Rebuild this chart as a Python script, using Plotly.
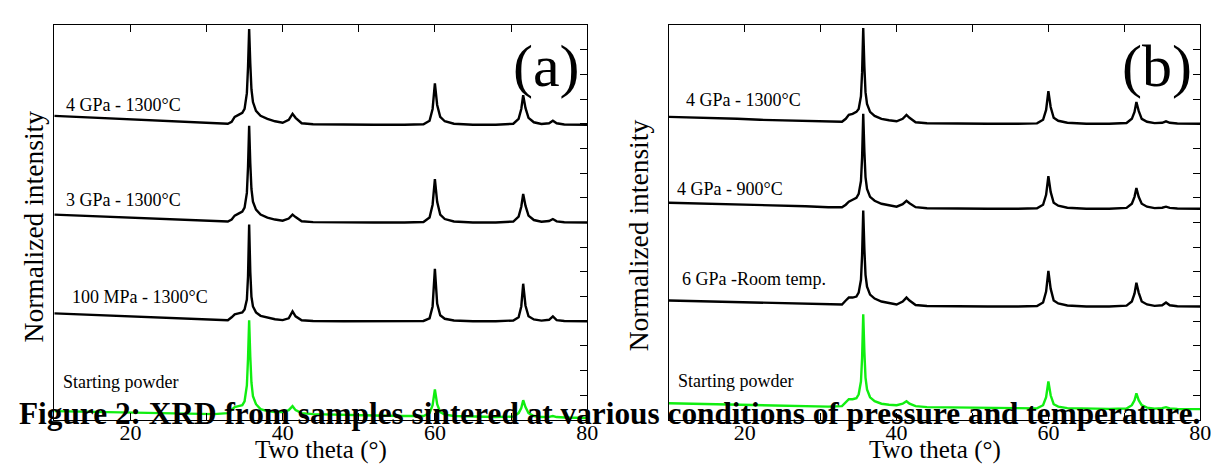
import plotly.graph_objects as go

# ---------------- data ----------------
two_theta = [10, 13, 16, 19, 22, 25, 28, 31, 32.8, 33.3, 33.7, 34.2, 34.7,
             35.0, 35.3, 35.45, 35.6, 35.75, 35.9, 36.1, 36.5, 37.1,
             38, 39, 40, 40.8, 41.3, 41.7, 42.5, 44, 48, 52, 56,
             58.5, 59.3, 59.7, 60.0, 60.3, 60.7, 61.3, 62.5, 65, 68,
             70.3, 71.0, 71.35, 71.6, 71.9, 72.3, 73.0, 74.0, 75.0, 75.5, 76.0, 77, 80]

# panel (a)
a_4gpa_1300 = [0.09, 0.08, 0.07, 0.06, 0.045, 0.035, 0.025, 0.015, 0.01, 0.03, 0.08, 0.10, 0.12,
               0.16, 0.32, 0.58, 0.97, 0.62, 0.36, 0.23, 0.14, 0.09,
               0.06, 0.035, 0.02, 0.05, 0.11, 0.07, 0.015, 0.005, 0.0, 0.0, 0.0,
               0.005, 0.04, 0.16, 0.42, 0.20, 0.08, 0.035, 0.01, 0.0, 0.0,
               0.01, 0.06, 0.16, 0.30, 0.17, 0.07, 0.025, 0.008, 0.015, 0.04, 0.015, 0.003, 0.0]
a_3gpa_1300 = [0.08, 0.07, 0.06, 0.05, 0.04, 0.03, 0.022, 0.012, 0.01, 0.03, 0.07, 0.09, 0.11,
               0.15, 0.30, 0.56, 0.98, 0.60, 0.34, 0.21, 0.13, 0.08,
               0.05, 0.03, 0.018, 0.04, 0.08, 0.055, 0.012, 0.004, 0.0, 0.0, 0.0,
               0.005, 0.05, 0.18, 0.44, 0.21, 0.08, 0.035, 0.01, 0.0, 0.0,
               0.01, 0.06, 0.16, 0.29, 0.17, 0.07, 0.025, 0.008, 0.015, 0.035, 0.012, 0.003, 0.0]
a_100mpa_1300 = [0.08, 0.07, 0.06, 0.05, 0.04, 0.03, 0.02, 0.01, 0.01, 0.04, 0.07, 0.08, 0.09,
                 0.12, 0.22, 0.45, 0.98, 0.50, 0.25, 0.15, 0.09, 0.055,
                 0.035, 0.02, 0.012, 0.03, 0.10, 0.05, 0.01, 0.003, 0.0, 0.0, 0.0,
                 0.003, 0.03, 0.15, 0.53, 0.18, 0.06, 0.025, 0.008, 0.0, 0.0,
                 0.008, 0.04, 0.15, 0.38, 0.16, 0.05, 0.018, 0.006, 0.015, 0.05, 0.012, 0.003, 0.0]
a_powder = [0.07, 0.065, 0.06, 0.055, 0.05, 0.045, 0.04, 0.04, 0.05, 0.08, 0.11, 0.12, 0.13,
            0.17, 0.33, 0.60, 0.99, 0.62, 0.36, 0.22, 0.14, 0.09,
            0.07, 0.06, 0.06, 0.08, 0.12, 0.08, 0.05, 0.04, 0.03, 0.025, 0.02,
            0.02, 0.05, 0.13, 0.29, 0.14, 0.06, 0.035, 0.02, 0.012, 0.01,
            0.015, 0.05, 0.10, 0.18, 0.11, 0.05, 0.02, 0.01, 0.012, 0.02, 0.01, 0.005, 0.0]

# panel (b)
b_4gpa_1300 = [0.07, 0.065, 0.06, 0.05, 0.04, 0.035, 0.03, 0.02, 0.02, 0.05, 0.09, 0.10, 0.12,
               0.15, 0.28, 0.52, 0.97, 0.58, 0.32, 0.20, 0.12, 0.08,
               0.05, 0.035, 0.025, 0.05, 0.09, 0.06, 0.015, 0.005, 0.0, 0.0, 0.0,
               0.004, 0.04, 0.14, 0.33, 0.17, 0.06, 0.03, 0.01, 0.0, 0.0,
               0.008, 0.05, 0.12, 0.22, 0.13, 0.05, 0.02, 0.006, 0.01, 0.025, 0.01, 0.002, 0.0]
b_4gpa_900 = [0.06, 0.055, 0.05, 0.045, 0.04, 0.03, 0.025, 0.015, 0.015, 0.04, 0.07, 0.09, 0.11,
              0.15, 0.28, 0.52, 0.96, 0.58, 0.32, 0.20, 0.12, 0.08,
              0.05, 0.035, 0.02, 0.045, 0.08, 0.055, 0.015, 0.005, 0.0, 0.0, 0.0,
              0.004, 0.04, 0.14, 0.33, 0.17, 0.06, 0.03, 0.01, 0.0, 0.0,
              0.008, 0.05, 0.12, 0.21, 0.12, 0.05, 0.02, 0.006, 0.01, 0.02, 0.008, 0.002, 0.0]
b_6gpa_room = [0.06, 0.055, 0.05, 0.04, 0.035, 0.03, 0.025, 0.02, 0.02, 0.06, 0.09, 0.09, 0.10,
               0.14, 0.27, 0.52, 0.97, 0.58, 0.32, 0.20, 0.12, 0.08,
               0.05, 0.035, 0.02, 0.05, 0.09, 0.06, 0.015, 0.005, 0.0, 0.0, 0.0,
               0.004, 0.04, 0.15, 0.36, 0.18, 0.06, 0.03, 0.01, 0.0, 0.0,
               0.008, 0.05, 0.13, 0.24, 0.14, 0.05, 0.02, 0.006, 0.012, 0.04, 0.012, 0.002, 0.0]
b_powder = [0.06, 0.055, 0.05, 0.045, 0.04, 0.035, 0.03, 0.025, 0.03, 0.07, 0.10, 0.10, 0.11,
            0.15, 0.28, 0.52, 0.96, 0.58, 0.32, 0.20, 0.12, 0.08,
            0.055, 0.045, 0.04, 0.055, 0.08, 0.055, 0.03, 0.02, 0.015, 0.01, 0.008,
            0.008, 0.04, 0.12, 0.28, 0.14, 0.05, 0.025, 0.01, 0.004, 0.003,
            0.006, 0.04, 0.09, 0.16, 0.09, 0.04, 0.015, 0.005, 0.01, 0.02, 0.008, 0.002, 0.0]

a_labels = ["4 GPa - 1300°C", "3 GPa - 1300°C", "100 MPa - 1300°C", "Starting powder"]
a_series = [a_4gpa_1300, a_3gpa_1300, a_100mpa_1300, a_powder]
a_offsets = [2.99, 2.0, 1.0, 0.02]

b_labels = ["4 GPa - 1300°C", "4 GPa - 900°C", "6 GPa -Room temp.", "Starting powder"]
b_series = [b_4gpa_1300, b_4gpa_900, b_6gpa_room, b_powder]
b_offsets = [3.0, 2.14, 1.15, 0.11]

x_ticks = [10, 20, 30, 40, 50, 60, 70, 80]
x_ticktext = ["", "20", "", "40", "", "60", "", "80"]

# ---------------- figure ----------------
W, H = 1219, 466
FONT = "Liberation Serif, Times New Roman, serif"
GREEN = "#10ee10"


def px(x):
    return x / W


def py(y):
    return 1 - y / H


fig = go.Figure()
colors = ["black", "black", "black", GREEN]
for series, off, col in zip(a_series, a_offsets, colors):
    fig.add_trace(go.Scatter(x=two_theta, y=[v + off for v in series], mode="lines",
                             line=dict(color=col, width=2.4), xaxis="x", yaxis="y",
                             showlegend=False, hoverinfo="skip"))
for series, off, col in zip(b_series, b_offsets, colors):
    fig.add_trace(go.Scatter(x=two_theta, y=[v + off for v in series], mode="lines",
                             line=dict(color=col, width=2.4), xaxis="x2", yaxis="y2",
                             showlegend=False, hoverinfo="skip"))

xa = dict(range=[10, 80], tickvals=x_ticks, ticktext=x_ticktext, ticks="inside", ticklen=7,
          tickwidth=1, tickcolor="black", showline=True, linecolor="black", linewidth=1.3,
          mirror="ticks", showgrid=False, zeroline=False, ticklabelstandoff=-8,
          tickfont=dict(family=FONT, size=22, color="black"))
ya = dict(range=[0, 4], tick0=0, dtick=0.25, ticks="inside", ticklen=7, tickwidth=1,
          tickcolor="black", side="right", showticklabels=False, showline=True,
          linecolor="black", linewidth=1.3, mirror=True, showgrid=False, zeroline=False)

y_dom = [py(412), py(17)]
fig.update_layout(
    width=W, height=H, margin=dict(l=0, r=0, t=0, b=0),
    paper_bgcolor="white", plot_bgcolor="white",
    xaxis=dict(xa, domain=[px(46.7), px(584.4)], anchor="y"),
    yaxis=dict(ya, domain=y_dom, anchor="x"),
    xaxis2=dict(xa, domain=[px(667), px(1203)], anchor="y2"),
    yaxis2=dict(ya, domain=y_dom, anchor="x2"),
)

ann = []
# spectrum labels
a_label_pos = [(56.6, 97), (56.6, 192), (63, 289), (53.6, 374)]
b_label_pos = [(682, 92), (673, 181), (678, 271), (674, 373)]
for lab, (x, y) in zip(a_labels + b_labels, a_label_pos + b_label_pos):
    ann.append(dict(text=lab, x=px(x), y=py(y), xref="paper", yref="paper",
                    xanchor="left", yanchor="middle", showarrow=False,
                    font=dict(family=FONT, size=18, color="black")))
# panel letters
for lab, (x, y) in [("(a)", (543, 58)), ("(b)", (1159, 58))]:
    ann.append(dict(text=lab, x=px(x), y=py(y), xref="paper", yref="paper",
                    xanchor="center", yanchor="middle", showarrow=False,
                    font=dict(family=FONT, size=60, color="black")))
# axis titles
for x in (315.5, 935):
    ann.append(dict(text="Two theta (°)", x=px(x), y=py(442), xref="paper", yref="paper",
                    xanchor="center", yanchor="middle", showarrow=False,
                    font=dict(family=FONT, size=25, color="black")))
for x, y in ((25.7, 218), (637, 227)):
    ann.append(dict(text="Normalized intensity", x=px(x), y=py(y), xref="paper", yref="paper",
                    xanchor="center", yanchor="middle", showarrow=False, textangle=-90,
                    font=dict(family=FONT, size=27.5, color="black")))
# caption overlapping the figure
ann.append(dict(text="<b>Figure 2: XRD from samples sintered at various conditions of pressure and temperature.</b>",
                x=px(607), y=py(405), xref="paper", yref="paper", xanchor="center", yanchor="middle",
                showarrow=False, font=dict(family=FONT, size=31.3, color="black")))
fig.update_layout(annotations=ann)

fig.write_html("out.html")
